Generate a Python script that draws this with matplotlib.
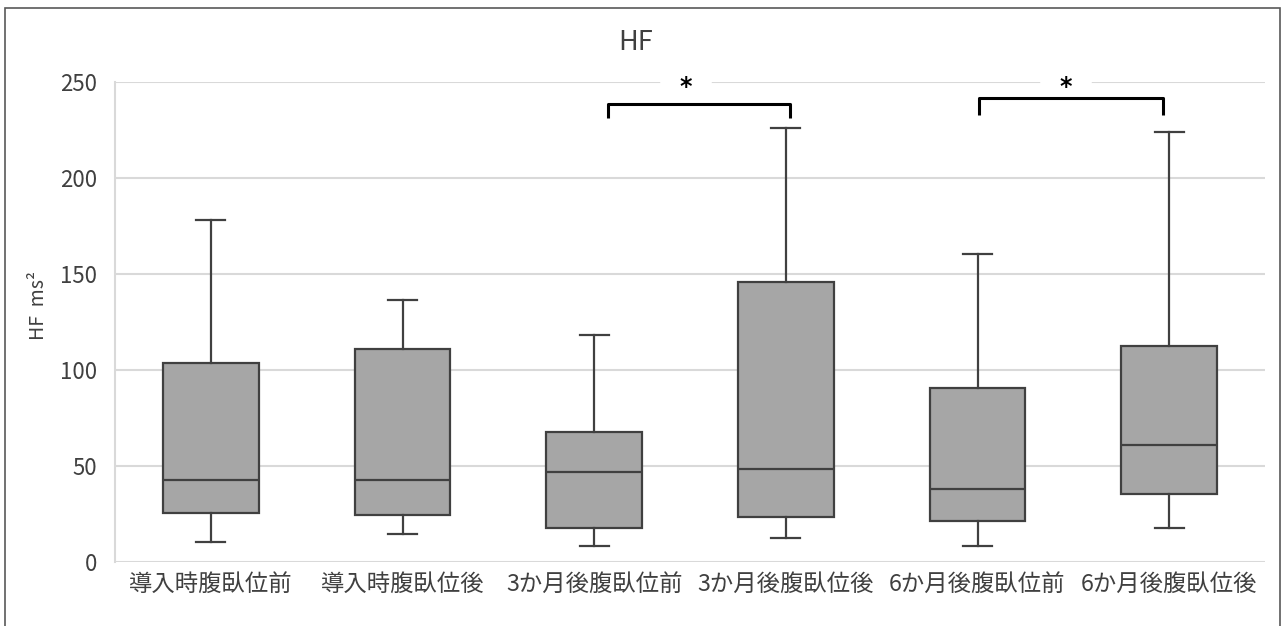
import matplotlib
matplotlib.use('Agg')
import matplotlib.pyplot as plt
import matplotlib.patches as patches

plt.rcParams['font.family'] = ['Noto Sans CJK JP', 'DejaVu Sans']

# box statistics
labels = ['導入時腹臥位前', '導入時腹臥位後', '3か月後腹臥位前',
          '3か月後腹臥位後', '6か月後腹臥位前', '6か月後腹臥位後']
whislo = [10.6, 14.8, 8.3, 12.5, 8.3, 17.9]
q1 = [25.7, 24.3, 17.9, 23.4, 21.2, 35.4]
med = [42.7, 42.5, 47.0, 48.3, 37.8, 61.1]
q3 = [103.8, 111.0, 67.9, 145.8, 90.6, 112.3]
whishi = [178.0, 136.2, 118.0, 226.2, 160.2, 223.8]

# significance brackets: x ends, top and leg bottom, star x
br_left = [2.07, 4.01]
br_right = [3.02, 4.97]
br_top = [238.5, 241.7]
br_foot = [231.5, 233.0]
star_x = [2.48, 4.46]

fig = plt.figure(figsize=(12.85, 6.26), dpi=100)
ax = fig.add_axes([115 / 1285, 1 - 562 / 626, 1150 / 1285, 480 / 626])

stats = []
for i in range(len(labels)):
    stats.append({'whislo': whislo[i], 'q1': q1[i], 'med': med[i],
                  'q3': q3[i], 'whishi': whishi[i], 'fliers': [],
                  'label': labels[i]})

edge = '#404040'
ax.bxp(stats, positions=range(len(labels)), widths=0.5, patch_artist=True,
       showfliers=False,
       boxprops=dict(facecolor='#a6a6a6', edgecolor=edge, linewidth=1.6),
       medianprops=dict(color=edge, linewidth=1.6),
       whiskerprops=dict(color=edge, linewidth=1.6),
       capprops=dict(color=edge, linewidth=1.6), capwidths=0.15,
       zorder=3)

ax.set_xlim(-0.5, len(labels) - 0.5)
ax.set_ylim(0, 250)
ax.set_yticks(range(0, 251, 50))
ax.yaxis.grid(True, color='#d9d9d9', linewidth=1.5, zorder=0)
ax.set_axisbelow(True)
for s in ['top', 'right', 'bottom']:
    ax.spines[s].set_visible(False)
ax.spines['left'].set_color('#d9d9d9')
ax.spines['left'].set_linewidth(1.5)
ax.tick_params(axis='both', length=0, colors='#404040')
ax.tick_params(axis='y', pad=13, labelsize=16)
ax.tick_params(axis='x', pad=8, labelsize=16.8)
ax.set_xticks(range(len(labels)))
ax.set_xticklabels(labels)

ax.set_ylabel('HF  ms²', fontsize=14, color='#404040')
ax.yaxis.set_label_coords(-0.057, 0.535)
fig.text(636 / 1285, 1 - 42 / 626, 'HF', fontsize=19.5, color='#404040',
         ha='center', va='center')

# brackets with stars
for i in range(len(br_left)):
    ax.plot([br_left[i], br_left[i], br_right[i], br_right[i]],
            [br_foot[i], br_top[i], br_top[i], br_foot[i]],
            color='black', linewidth=2.2, solid_joinstyle='round',
            solid_capstyle='butt', zorder=4, clip_on=False)
    # gap in the top gridline behind the star
    ax.plot([star_x[i] - 0.12, star_x[i] + 0.12], [250, 250], color='white',
            linewidth=4, zorder=1, clip_on=False)
    ax.text(star_x[i], 247.3, '*', fontsize=17, color='black',
            family='DejaVu Sans', fontweight='bold',
            ha='center', va='center', zorder=5)

# outer chart border
fig.patches.append(patches.Rectangle((5 / 1285, -0.01), 1275 / 1285, 1 - 8 / 626 + 0.01,
                                     transform=fig.transFigure, fill=False,
                                     edgecolor='#595959', linewidth=1.2))

fig.savefig('out.png', dpi=100)
